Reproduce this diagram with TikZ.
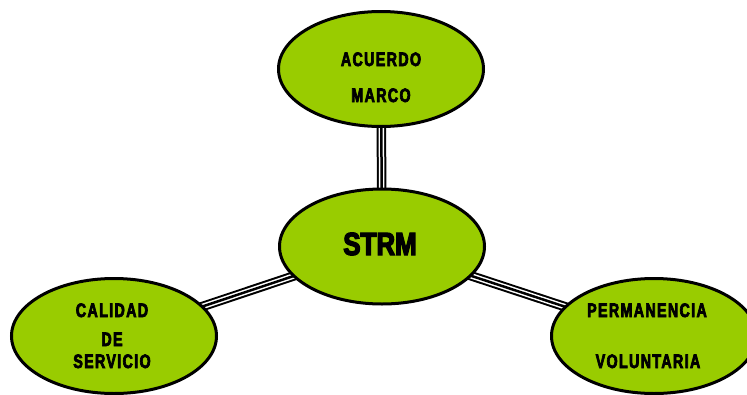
\documentclass[tikz,border=0pt]{standalone}
\usepackage{fontspec}
\usetikzlibrary{shapes.geometric,backgrounds}
\newfontfamily\lblfont[FakeStretch=0.73,LetterSpace=7,FakeBold=3.5]{Liberation Sans Bold}
\newfontfamily\bigfont[FakeStretch=0.81,FakeBold=4]{Liberation Sans Bold}
\definecolor{leaf}{RGB}{153,204,0}
\tikzset{
  bubble/.style={ellipse, draw=black, line width=3pt, fill=leaf, minimum width=205pt, minimum height=115pt, inner sep=0pt},
  lbl/.style={anchor=base, inner sep=0pt, font=\lblfont\fontsize{19.5}{20}\selectfont},
  biglbl/.style={anchor=base, inner sep=0pt, font=\bigfont\fontsize{32}{34}\selectfont},
  tripleline/.style={draw=black, line width=9.5pt, postaction={draw=white, line width=5.5pt}, postaction={draw=black, line width=2.5pt}}
}
\begin{document}
\begin{tikzpicture}[x=1pt,y=-1pt]
\useasboundingbox (0,0) rectangle (747,394);
\clip (0,0) rectangle (747,394);
\node[bubble] (top) at (381,69) {};
\node[bubble] (mid) at (382,246.5) {};
\node[bubble] (left) at (114,336) {};
\node[bubble] (right) at (654,336) {};
\begin{scope}[on background layer]
  \draw[tripleline] (mid.center) -- (top.center);
  \draw[tripleline] (mid.center) -- (left.center);
  \draw[tripleline] (mid.center) -- (right.center);
\end{scope}
\node[lbl] (t1) at (381,66) {ACUERDO};
\node[lbl] (t2) at (381,102) {MARCO};
\node[biglbl] (m1) at (380,255) {STRM};
\node[lbl] (l1) at (112,317) {CALIDAD};
\node[lbl] (l2) at (112,346) {DE};
\node[lbl] (l3) at (112,368) {SERVICIO};
\node[lbl] (r1) at (647,317) {PERMANENCIA};
\node[lbl] (r2) at (648,368) {VOLUNTARIA};
\end{tikzpicture}
\end{document}
